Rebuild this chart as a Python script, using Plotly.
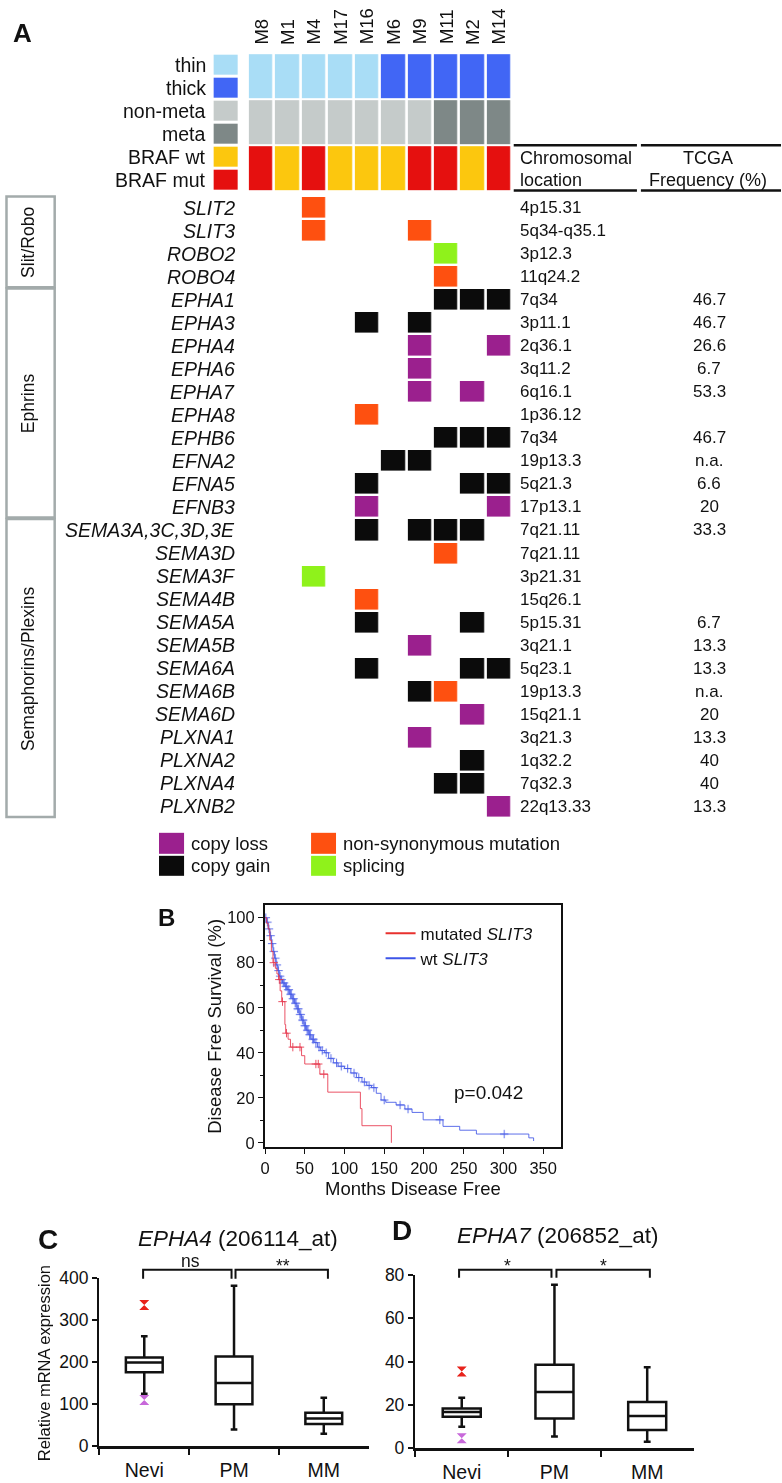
import plotly.graph_objects as go

W, H = 782, 1483

# ---------------- DATA ----------------
samples = ["M8", "M1", "M4", "M17", "M16", "M6", "M9", "M11", "M2", "M14"]
thickness = ["thin", "thin", "thin", "thin", "thin", "thick", "thick", "thick", "thick", "thick"]
metastasis = ["non-meta"] * 7 + ["meta"] * 3
braf = ["BRAF mut", "BRAF wt", "BRAF mut", "BRAF wt", "BRAF wt",
        "BRAF wt", "BRAF mut", "BRAF mut", "BRAF wt", "BRAF mut"]
clin_labels = ["thin", "thick", "non-meta", "meta", "BRAF wt", "BRAF mut"]
clin_colors = ["#a9ddf6", "#4166f5", "#c5cbca", "#7e8887", "#fcc70e", "#e5100f"]

genes = ["SLIT2", "SLIT3", "ROBO2", "ROBO4", "EPHA1", "EPHA3", "EPHA4", "EPHA6", "EPHA7",
         "EPHA8", "EPHB6", "EFNA2", "EFNA5", "EFNB3", "SEMA3A,3C,3D,3E", "SEMA3D", "SEMA3F",
         "SEMA4B", "SEMA5A", "SEMA5B", "SEMA6A", "SEMA6B", "SEMA6D", "PLXNA1", "PLXNA2",
         "PLXNA4", "PLXNB2"]
# per gene, one character per sample (same order as samples):
# L copy loss, G copy gain, M non-synonymous mutation, S splicing, . none
alterations = ["..M.......", "..M...M...", ".......S..", ".......M..", ".......GGG",
               "....G.G...", "......L..L", "......L...", "......L.L.", "....M.....",
               ".......GGG", ".....GG...", "....G...GG", "....L....L", "....G.GGG.",
               ".......M..", "..S.......", "....M.....", "....G...G.", "......L...",
               "....G...GG", "......GM..", "........L.", "......L...", "........G.",
               ".......GG.", ".........L"]
alt_codes = ["L", "G", "M", "S"]
alt_labels = ["copy loss", "copy gain", "non-synonymous mutation", "splicing"]
alt_colors = ["#9b208e", "#0b0b0b", "#fe5010", "#8ff21b"]
chrom_loc = ["4p15.31", "5q34-q35.1", "3p12.3", "11q24.2", "7q34", "3p11.1", "2q36.1", "3q11.2",
             "6q16.1", "1p36.12", "7q34", "19p13.3", "5q21.3", "17p13.1", "7q21.11", "7q21.11",
             "3p21.31", "15q26.1", "5p15.31", "3q21.1", "5q23.1", "19p13.3", "15q21.1", "3q21.3",
             "1q32.2", "7q32.3", "22q13.33"]
tcga_freq = ["", "", "", "", "46.7", "46.7", "26.6", "6.7", "53.3", "", "46.7", "n.a.", "6.6",
             "20", "33.3", "", "", "", "6.7", "13.3", "13.3", "n.a.", "20", "13.3", "40", "40", "13.3"]
groups = ["Slit/Robo", "Ephrins", "Semaphorins/Plexins"]
group_first = [0, 4, 14]
group_last = [3, 13, 26]

# Panel B: Kaplan-Meier (months, % disease free)
mut_t = [0, 2, 4, 6, 8, 10, 13, 15, 17, 19, 21, 25, 26, 29, 32, 46, 50, 69, 79, 120, 122, 159]
mut_s = [100, 97.5, 95, 90, 85, 80, 77.5, 75, 72.5, 67.5, 62.7, 52.5, 48.7, 46, 42.5, 38.7,
         35, 30.5, 22.5, 15.2, 7.6, 0]
mut_cens_t = [11, 18, 22, 27, 35, 44, 64, 67, 74]
mut_cens_s = [80, 72.5, 62.7, 48.7, 42.5, 42.5, 35, 35, 30.5]
wt_t = [0, 2, 4, 6, 8, 10, 12, 14, 16, 18, 20, 22, 25, 28, 31, 34, 37, 40, 43, 46, 49, 52, 55,
        58, 62, 66, 70, 75, 80, 86, 92, 100, 108, 115, 122, 128, 134, 140, 146, 152, 165, 176,
        185, 199, 224, 245, 266, 332, 338]
wt_s = [100, 98, 95, 92, 88.5, 85, 82, 79, 76.5, 74, 72.5, 71, 69.5, 68, 66, 64, 62, 59.5, 57,
        54.5, 52, 50, 48, 46, 44.5, 42.5, 41, 40, 37.5, 35.5, 34, 33, 31, 29, 27, 25.5, 24.5,
        22, 19, 18, 16.8, 15, 13.5, 10.2, 7.3, 5.6, 3.9, 2.2, 0.8]
wt_cens_t = [1, 3, 5, 7, 9, 11, 13, 15, 17, 19, 21, 23, 24, 26, 27, 29, 30, 32, 33, 35, 36, 38,
             39, 41, 42, 44, 45, 47, 48, 50, 51, 53, 54, 56, 57, 60, 61, 64, 68, 72, 77, 83, 90,
             96, 104, 112, 118, 125, 131, 137, 150, 170, 180, 220, 301]
wt_cens_s = [100, 98, 95, 92, 88.5, 85, 82, 79, 76.5, 74, 72.5, 71, 71, 69.5, 69.5, 68, 68, 66,
             66, 64, 64, 62, 62, 59.5, 59.5, 57, 57, 54.5, 54.5, 52, 52, 50, 50, 48, 48, 46, 46,
             44.5, 42.5, 41, 40, 37.5, 35.5, 34, 33, 31, 29, 27, 25.5, 24.5, 19, 16.8, 15, 10.2, 3.9]
km_ticks_x = [0, 50, 100, 150, 200, 250, 300, 350]
km_ticks_y = [0, 20, 40, 60, 80, 100]

# Panels C/D: box plots
box_groups = ["Nevi", "PM", "MM"]
epha4_q1 = [176, 100, 53]
epha4_med = [199, 150, 66]
epha4_q3 = [211, 213, 80]
epha4_lo = [125, 40, 30]
epha4_hi = [261, 381, 115]
epha4_out_y = [335, 110]
epha7_q1 = [14.6, 13.8, 8.4]
epha7_med = [16.7, 25.9, 14.9]
epha7_q3 = [18.3, 38.5, 21.4]
epha7_lo = [9.9, 5.5, 3.0]
epha7_hi = [23.3, 75.4, 37.4]
epha7_out_y = [35.4, 4.7]
outlier_colors = ["#e8231c", "#c868da"]

# ---------------- LAYOUT HELPERS ----------------
FONT = "Liberation Sans, Arial, sans-serif"
C0, PITCH = 257.7, 26.6      # panel A column centre / pitch (px)
R0, RP = 200.2, 23.35        # panel A row centre / pitch (px)
A_BOTTOM = 890


def ax(px):
    return (px - C0) / PITCH


def ay(py):
    return (py - R0) / RP


def pxx(p):
    return p / W


def pxy(p):
    return 1 - p / H


def dscale(colors):
    n = len(colors)
    cs = []
    for k, c in enumerate(colors):
        cs.append([k / n, c])
        cs.append([(k + 1) / n, c])
    return cs


fig = go.Figure()
annotations = []
shapes = []

# ---------- Panel A ----------
clin_rows = [thickness, metastasis, braf]
z_clin = [[clin_labels.index(v) for v in row] for row in clin_rows]
fig.add_trace(go.Heatmap(
    z=z_clin, x=list(range(len(samples))), y=[-6.7, -4.72, -2.7, -0.7],
    colorscale=dscale(clin_colors), zmin=-0.5, zmax=len(clin_colors) - 0.5,
    xgap=2.7, ygap=2, showscale=False, hoverinfo="skip", xaxis="x", yaxis="y"))
# clinical key swatches
fig.add_trace(go.Heatmap(
    z=[[k] for k in range(len(clin_labels))], x=[ax(210), ax(234)],
    y=[-6.68 + k for k in range(len(clin_labels) + 1)],
    colorscale=dscale(clin_colors), zmin=-0.5, zmax=len(clin_colors) - 0.5,
    xgap=0, ygap=3, showscale=False, hoverinfo="skip", xaxis="x", yaxis="y"))

z_gene = [[(alt_codes.index(ch) if ch in alt_codes else None) for ch in row] for row in alterations]
fig.add_trace(go.Heatmap(
    z=z_gene, x=list(range(len(samples))), y=list(range(len(genes))),
    colorscale=dscale(alt_colors), zmin=-0.5, zmax=len(alt_colors) - 0.5,
    xgap=2.7, ygap=2.4, showscale=False, hoverinfo="skip", xaxis="x", yaxis="y"))

# alteration key swatches
key_x = [ax(155), ax(180), ax(308), ax(333)]
key_y = [ay(833), ay(856), ay(879)]
fig.add_trace(go.Heatmap(
    z=[[0, None, 2], [1, None, 3]], x=key_x, y=key_y,
    colorscale=dscale(alt_colors), zmin=-0.5, zmax=len(alt_colors) - 0.5,
    xgap=0, ygap=2, showscale=False, hoverinfo="skip", xaxis="x", yaxis="y"))
for k, lab in enumerate(alt_labels):
    col, row = k // 2, k % 2
    annotations.append(dict(x=ax(185 if col == 0 else 338), y=(key_y[row] + key_y[row + 1]) / 2,
                            xref="x", yref="y", text=lab, showarrow=False, xanchor="left",
                            font=dict(size=18.5, family=FONT, color="#111")))

for i, s in enumerate(samples):
    annotations.append(dict(x=i, y=ay(37), xref="x", yref="y", text=s, textangle=-90,
                            showarrow=False, xanchor="center", yanchor="bottom",
                            font=dict(size=18.5, family=FONT, color="#111")))
for k, lab in enumerate(clin_labels):
    annotations.append(dict(x=ax(204), y=-6.18 + k, xref="x", yref="y", text=lab,
                            showarrow=False, xanchor="right",
                            font=dict(size=19.5, family=FONT, color="#111")))
for j, g in enumerate(genes):
    annotations.append(dict(x=ax(233), y=j, xref="x", yref="y", text="<i>" + g + "</i>",
                            showarrow=False, xanchor="right",
                            font=dict(size=19.5, family=FONT, color="#111")))
    annotations.append(dict(x=ax(516), y=j, xref="x", yref="y", text=chrom_loc[j],
                            showarrow=False, xanchor="left",
                            font=dict(size=17, family=FONT, color="#111")))
    if tcga_freq[j]:
        annotations.append(dict(x=ax(709), y=j, xref="x", yref="y", text=tcga_freq[j],
                                showarrow=False, xanchor="center",
                                font=dict(size=17, family=FONT, color="#111")))
for txt, yy in [("Chromosomal", -2.15), ("location", -1.2)]:
    annotations.append(dict(x=ax(516), y=yy, xref="x", yref="y", text=txt, showarrow=False,
                            xanchor="left", font=dict(size=18, family=FONT, color="#111")))
for txt, yy in [("TCGA", -2.15), ("Frequency (%)", -1.2)]:
    annotations.append(dict(x=ax(708), y=yy, xref="x", yref="y", text=txt, showarrow=False,
                            xanchor="center", font=dict(size=18, family=FONT, color="#111")))
for yy in [ay(137), ay(183)]:
    for x0, x1 in [(512, 636), (640, 781)]:
        shapes.append(dict(type="line", xref="x", yref="y", x0=ax(x0), x1=ax(x1), y0=yy, y1=yy,
                           line=dict(color="#111", width=2.5)))
for g, a, b in zip(groups, group_first, group_last):
    shapes.append(dict(type="rect", xref="x", yref="y", x0=ax(1.5), x1=ax(50), y0=a - 0.48,
                       y1=b + 0.46, line=dict(color="#a3abab", width=2.5)))
    annotations.append(dict(x=ax(23), y=(a + b) / 2, xref="x", yref="y", text=g, textangle=-90,
                            showarrow=False, font=dict(size=17.5, family=FONT, color="#111")))

# ---------- Panel B ----------
red, blue = "#e6344a", "#4257e6"
fig.add_trace(go.Scatter(x=wt_t, y=wt_s, mode="lines", line=dict(color=blue, width=1, shape="hv"),
                         showlegend=False, xaxis="x2", yaxis="y2", opacity=0.85))
fig.add_trace(go.Scatter(x=wt_cens_t, y=wt_cens_s, mode="markers",
                         marker=dict(symbol="cross-thin-open", size=6, color=blue,
                                     line=dict(color=blue, width=1)),
                         showlegend=False, xaxis="x2", yaxis="y2", opacity=0.85))
fig.add_trace(go.Scatter(x=mut_t, y=mut_s, mode="lines", line=dict(color=red, width=1, shape="hv"),
                         showlegend=False, xaxis="x2", yaxis="y2", opacity=0.85))
fig.add_trace(go.Scatter(x=mut_cens_t, y=mut_cens_s, mode="markers",
                         marker=dict(symbol="cross-thin-open", size=6, color=red,
                                     line=dict(color=red, width=1)),
                         showlegend=False, xaxis="x2", yaxis="y2", opacity=0.85))
fig.add_trace(go.Scatter(x=[None], y=[None], mode="lines", line=dict(color="#e8312e", width=2),
                         name="mutated <i>SLIT3</i>", xaxis="x2", yaxis="y2"))
fig.add_trace(go.Scatter(x=[None], y=[None], mode="lines", line=dict(color="#3d55e8", width=2),
                         name="wt <i>SLIT3</i>", xaxis="x2", yaxis="y2"))

axis_common = dict(showline=True, linecolor="#111", showgrid=False, zeroline=False,
                   ticks="outside", tickcolor="#111", tickfont=dict(size=16.5, family=FONT, color="#111"))

# ---------- Panels C/D ----------
def add_boxes(q1, med, q3, lo, hi, out_y, xa, ya):
    for k, gname in enumerate(box_groups):
        fig.add_trace(go.Box(x=[gname], q1=[q1[k]], median=[med[k]], q3=[q3[k]],
                             lowerfence=[lo[k]], upperfence=[hi[k]], boxpoints=False,
                             fillcolor="white", line=dict(color="#111", width=2.5),
                             width=0.41, whiskerwidth=0.18, showlegend=False,
                             hoverinfo="skip", xaxis=xa, yaxis=ya))
    fig.add_trace(go.Scatter(x=[box_groups[0]] * len(out_y), y=out_y, mode="markers",
                             marker=dict(symbol="hourglass", size=10, color=outlier_colors),
                             showlegend=False, xaxis=xa, yaxis=ya))


add_boxes(epha4_q1, epha4_med, epha4_q3, epha4_lo, epha4_hi, epha4_out_y, "x3", "y3")
add_boxes(epha7_q1, epha7_med, epha7_q3, epha7_lo, epha7_hi, epha7_out_y, "x4", "y4")

cat_axis = dict(axis_common, type="category", categoryorder="array", categoryarray=box_groups,
                range=[-0.5, 2.5], tickson="boundaries", linewidth=2.5, tickwidth=2, ticklen=6,
                ticklabelstandoff=5, tickfont=dict(size=19.5, family=FONT, color="#111"))
val_axis = dict(axis_common, linewidth=2.5, tickwidth=2, ticklen=5,
                tickfont=dict(size=17.5, family=FONT, color="#111"))

# brackets / significance marks
def bracket(x0, x1, ytop, ybot):
    shapes.append(dict(type="path", xref="paper", yref="paper",
                       path=f"M {pxx(x0)} {pxy(ybot)} L {pxx(x0)} {pxy(ytop)} L {pxx(x1)} {pxy(ytop)} L {pxx(x1)} {pxy(ybot)}",
                       line=dict(color="#111", width=2)))


bracket(139, 228, 1277, 1286)
bracket(232, 325, 1277, 1286)
bracket(457, 550, 1277, 1285)
bracket(555, 649, 1277, 1285)


def pann(x, y, text, size, bold=False, angle=0, xanchor="center"):
    annotations.append(dict(x=pxx(x), y=pxy(y), xref="paper", yref="paper",
                            text=("<b>" + text + "</b>") if bold else text, showarrow=False,
                            textangle=angle, xanchor=xanchor, yanchor="middle",
                            font=dict(size=size, family=FONT, color="#111")))


pann(187, 1268, "ns", 17.5)
pann(280, 1273, "**", 17.5)
pann(506, 1273, "*", 17.5)
pann(602, 1273, "*", 17.5)
pann(235, 1245, "<i>EPHA4</i> (206114_at)", 22.5)
pann(556, 1242, "<i>EPHA7</i> (206852_at)", 22.5)
pann(40, 1372, "Relative mRNA expression", 16.5, angle=-90)
pann(210, 1030, "Disease Free Survival (%)", 18.5, angle=-90)
pann(411, 1195, "Months Disease Free", 18.5)
pann(487, 1097, "p=0.042", 19)
pann(18, 23, "A", 26, bold=True)
pann(163, 920, "B", 24, bold=True)
pann(43, 1246, "C", 28, bold=True)
pann(400, 1237, "D", 28, bold=True)

fig.update_layout(
    width=W, height=H, margin=dict(l=0, r=0, t=0, b=0),
    paper_bgcolor="white", plot_bgcolor="rgba(0,0,0,0)",
    font=dict(family=FONT, color="#111"),
    xaxis=dict(domain=[0, 1], range=[ax(0), ax(W)], visible=False, fixedrange=True),
    yaxis=dict(domain=[pxy(A_BOTTOM), 1], range=[ay(A_BOTTOM), ay(0)], visible=False),
    xaxis2=dict(axis_common, domain=[pxx(261.7), pxx(560)], range=[0, 373], anchor="y2",
                mirror=True, linewidth=2, ticklen=5, tickvals=km_ticks_x),
    yaxis2=dict(axis_common, domain=[pxy(1153), pxy(907.3)], range=[-2.06, 105.6], anchor="x2",
                mirror=True, linewidth=2, ticklen=5, tickvals=km_ticks_y,
                minor=dict(ticks="outside", dtick=10, ticklen=3, tickcolor="#111")),
    xaxis3=dict(cat_axis, domain=[pxx(95), pxx(366)], anchor="y3"),
    yaxis3=dict(val_axis, domain=[pxy(1456), pxy(1285)], range=[0, 400], dtick=100, anchor="x3"),
    xaxis4=dict(cat_axis, domain=[pxx(413), pxx(693)], anchor="y4"),
    yaxis4=dict(val_axis, domain=[pxy(1458), pxy(1282)], range=[0, 80], dtick=20, anchor="x4"),
    legend=dict(x=pxx(378), y=pxy(918), xanchor="left", yanchor="top", bgcolor="rgba(0,0,0,0)",
                font=dict(size=17, family=FONT, color="#111"), itemwidth=30, tracegroupgap=0),
    annotations=annotations, shapes=shapes,
)

fig.write_html("out.html",
               config={"displayModeBar": False, "staticPlot": True},
               post_script="document.body.style.margin='0px';"
                           "document.documentElement.style.overflow='hidden';")
